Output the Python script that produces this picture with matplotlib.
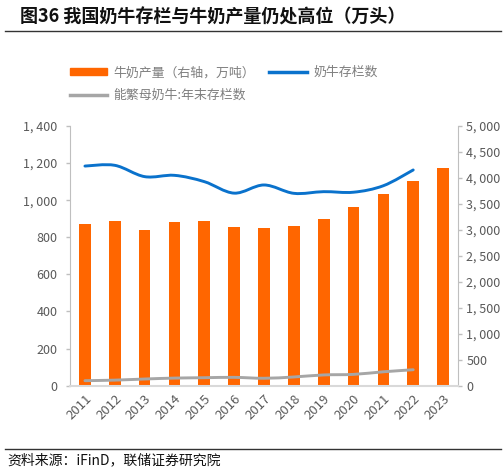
import matplotlib
matplotlib.use("Agg")
import matplotlib.pyplot as plt
import numpy as np
from matplotlib.path import Path
from matplotlib.patches import PathPatch, Patch
from matplotlib.lines import Line2D
from matplotlib.ticker import FuncFormatter

plt.rcParams['font.family'] = ['Noto Sans CJK SC', 'DejaVu Sans']

years = ['2011', '2012', '2013', '2014', '2015', '2016', '2017',
         '2018', '2019', '2020', '2021', '2022', '2023']
# 牛奶产量（右轴，万吨）
milk = [3110, 3175, 3001, 3160, 3180, 3064, 3039, 3075, 3201, 3440, 3683, 3932, 4197]
# 奶牛存栏数（万头）, 2023 missing
cows = [1184, 1188, 1127, 1134, 1100, 1038, 1082, 1037, 1046, 1043, 1078, 1163]
# 能繁母奶牛:年末存栏数
breeding = [27, 30, 36, 41, 43, 45, 40, 47, 58, 61, 75, 86]

orange = '#FF6600'
blue = '#0A72CC'
grey = '#A6A6A6'
tick_c = '#595959'
spine_c = '#BFBFBF'


def smooth_path(xs, ys):
    # Catmull-Rom style bezier through the points, like Excel's smoothed line
    pts = np.column_stack([xs, ys]).astype(float)
    verts = [pts[0]]
    codes = [Path.MOVETO]
    n = len(pts)
    for i in range(n - 1):
        p0 = pts[i - 1] if i > 0 else pts[i]
        p1 = pts[i]
        p2 = pts[i + 1]
        p3 = pts[i + 2] if i + 2 < n else pts[i + 1]
        c1 = p1 + (p2 - p0) / 6.0
        c2 = p2 - (p3 - p1) / 6.0
        verts += [c1, c2, p2]
        codes += [Path.CURVE4] * 3
    return Path(verts, codes)


fig = plt.figure(figsize=(5.04, 4.74), dpi=100)
ax = fig.add_axes([0.1389, 0.1863, 0.7698, 0.5479])
ax2 = ax.twinx()

x = np.arange(len(years))
ax2.bar(x, milk, 0.39, color=orange, zorder=2)

xl = np.arange(len(cows))
ax.add_patch(PathPatch(smooth_path(xl, cows), fill=False, edgecolor=blue,
                       lw=2.1, capstyle='round', zorder=5))
ax.add_patch(PathPatch(smooth_path(xl, breeding), fill=False, edgecolor=grey,
                       lw=2.1, capstyle='round', zorder=5))

ax.set_zorder(ax2.get_zorder() + 1)
ax.patch.set_visible(False)

ax.set_xlim(-0.5, len(years) - 0.5)
ax.set_ylim(0, 1400)
ax.set_yticks(np.arange(0, 1401, 200))
ax2.set_ylim(0, 5000)
ax2.set_yticks(np.arange(0, 5001, 500))

fmt = FuncFormatter(lambda v, p: f'{int(v):,}'.replace(',', ', '))
ax.yaxis.set_major_formatter(fmt)
ax2.yaxis.set_major_formatter(fmt)

ax.set_xticks(x)
ax.set_xticklabels(years, rotation=45, ha='right', rotation_mode='anchor')

for a in (ax, ax2):
    for s in a.spines.values():
        s.set_visible(False)
    a.tick_params(axis='both', colors=spine_c, labelcolor=tick_c,
                  labelsize=9, length=3, width=1)
ax.spines['left'].set_visible(True)
ax.spines['left'].set_color(spine_c)
ax.spines['bottom'].set_visible(True)
ax.spines['bottom'].set_color('#D9D9D9')
ax.spines['bottom'].set_linewidth(1.5)
ax2.spines['right'].set_visible(True)
ax2.spines['right'].set_color(spine_c)
ax.tick_params(axis='x', length=0, pad=5, labelsize=9.5)
ax.tick_params(axis='y', pad=6)
ax2.tick_params(axis='y', pad=3)

handles = [Patch(color=orange), Line2D([0], [0], color=grey, lw=2.5),
           Line2D([0], [0], color=blue, lw=2.5)]
labels = ['牛奶产量（右轴，万吨）', '能繁母奶牛:年末存栏数', '奶牛存栏数']
fig.legend(handles, labels, loc='upper left', bbox_to_anchor=(0.115, 0.885),
           ncol=2, frameon=False, fontsize=9.3, labelcolor='#7F7F7F',
           handlelength=2.9, handleheight=0.35, columnspacing=1.1,
           handletextpad=0.5, labelspacing=0.75)

fig.text(0.04, 0.965, '图36 我国奶牛存栏与牛奶产量仍处高位（万头）',
         fontsize=13, fontweight='bold', va='center', color='#111111')
fig.add_artist(Line2D([0.01, 0.995], [0.934, 0.934], color='#333333', lw=1))
fig.add_artist(Line2D([0.01, 0.995], [0.053, 0.053], color='#333333', lw=1))
fig.text(0.014, 0.028, '资料来源：iFinD，联储证券研究院', fontsize=10,
         va='center', color='#111111')

fig.savefig('out.png', dpi=100)
